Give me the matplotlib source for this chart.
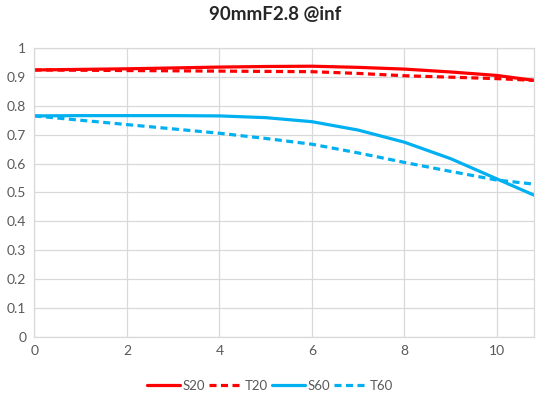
import matplotlib
matplotlib.use("Agg")
import matplotlib.pyplot as plt

plt.rcParams['font.family'] = ['Lato', 'DejaVu Sans']

# image height (mm) and MTF values
x_mm = [0, 1, 2, 3, 4, 5, 6, 7, 8, 9, 10, 10.8]
s20 = [0.924, 0.926, 0.928, 0.931, 0.934, 0.936, 0.937, 0.933, 0.927, 0.917, 0.905, 0.888]
t20 = [0.924, 0.923, 0.922, 0.921, 0.920, 0.919, 0.918, 0.912, 0.904, 0.899, 0.894, 0.888]
s60 = [0.765, 0.766, 0.766, 0.766, 0.765, 0.759, 0.745, 0.716, 0.674, 0.617, 0.547, 0.491]
t60 = [0.765, 0.750, 0.735, 0.720, 0.705, 0.687, 0.667, 0.637, 0.604, 0.573, 0.543, 0.529]

x_ticks = [0, 2, 4, 6, 8, 10]
y_ticks = [0, 0.1, 0.2, 0.3, 0.4, 0.5, 0.6, 0.7, 0.8, 0.9, 1]
y_labels = ["0", "0.1", "0.2", "0.3", "0.4", "0.5", "0.6", "0.7", "0.8", "0.9", "1"]

red = "#FF0000"
blue = "#00B0F0"
grid_col = "#D9D9D9"
text_col = "#595959"

fig = plt.figure(figsize=(5.51, 3.98), dpi=100)
ax = fig.add_axes([0.0626, 0.1533, 0.9064, 0.7261])

ax.plot(x_mm, s20, color=red, lw=2.3, label="S20", solid_capstyle="round")
ax.plot(x_mm, t20, color=red, lw=2.3, ls=(0, (2.2, 1.4)), label="T20")
ax.plot(x_mm, s60, color=blue, lw=2.3, label="S60", solid_capstyle="round")
ax.plot(x_mm, t60, color=blue, lw=2.3, ls=(0, (2.2, 1.4)), label="T60")

ax.set_xlim(0, 10.8)
ax.set_ylim(0, 1)
ax.set_xticks(x_ticks)
ax.set_yticks(y_ticks)
ax.set_yticklabels(y_labels)
ax.grid(True, color=grid_col, lw=0.9)
ax.set_axisbelow(True)
for sp in ax.spines.values():
    sp.set_color(grid_col)
    sp.set_linewidth(0.9)
ax.tick_params(length=0, colors=text_col, labelsize=10, pad=6)

fig.suptitle("90mmF2.8 @inf", y=0.985, fontsize=13.5, fontweight="bold", color="#262626")

fig.legend(loc="center", bbox_to_anchor=(0.49, 0.03), ncol=4, frameon=False,
           fontsize=9.5, handlelength=2.5, handletextpad=0.2, columnspacing=0.3,
           labelcolor=text_col)

fig.savefig("out.png", dpi=100)
